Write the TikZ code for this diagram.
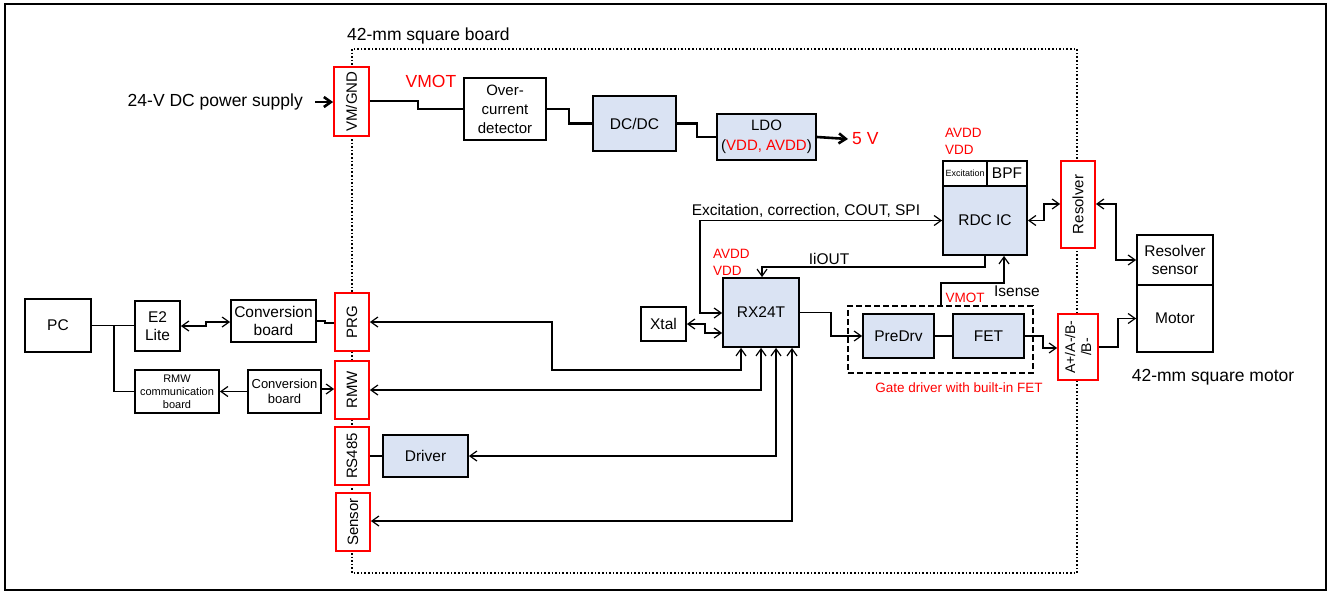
\documentclass[tikz,border=0pt]{standalone}
\usepackage{fontspec}
\setmainfont{Liberation Sans}
\usepackage{xcolor}
\usepackage{tikz}
\usetikzlibrary{arrows.meta,positioning}
\definecolor{vred}{RGB}{255,0,0}
\definecolor{icblue}{RGB}{218,227,243}

\begin{document}
\begin{tikzpicture}[x=1pt,y=-1pt,
     >={Straight Barb[length=7pt,width=10pt]},
     blk/.style={draw,line width=1.8pt,fill=white,inner sep=0pt,align=center,font=\fontsize{15.5}{18.5}\selectfont},
     ic/.style={blk,fill=icblue},
     port/.style={draw=vred,line width=1.8pt,fill=white,inner sep=0pt,rotate=90,align=center,font=\fontsize{15}{16}\selectfont},
     lbl/.style={inner sep=0pt,font=\fontsize{15.5}{18}\selectfont},
     big/.style={inner sep=0pt,font=\fontsize{17.5}{21}\selectfont},
     note/.style={inner sep=0pt,text=vred,align=left,font=\fontsize{13.5}{17}\selectfont},
     edg/.style={line width=1.2pt},
     pwr/.style={line width=2.6pt}]
    \useasboundingbox (0,0) rectangle (1328,592);
    \draw[line width=2pt] (5,4) rectangle (1326,590);
    % board outline
    \draw[line width=1.6pt,dash pattern=on 1.6pt off 2pt] (352,49) rectangle (1077,573);
    \node[big,anchor=west] (brd) at (347,36) {42-mm square board};

    % power path
    \node[big,anchor=east] (psu) at (303,102) {24-V DC power supply};
    \node[port,minimum width=69,minimum height=35] (vm) at (351.5,101.5) {VM/GND};
    \node[blk,minimum width=82,minimum height=62,font=\fontsize{15}{19}\selectfont] (oc) at (505,109) {Over-\\current\\detector};
    \node[ic,minimum width=83,minimum height=55] (dcdc) at (634.5,123.5) {DC/DC};
    \node[ic,minimum width=99,minimum height=46,font=\fontsize{15}{20}\selectfont] (ldo) at (766.5,137) {LDO\\(\textcolor{vred}{VDD, AVDD})};
    \node[big,text=vred] (vmot) at (431,81) {VMOT};
    \node[big,text=vred,anchor=west] (five) at (852,139) {5 V};
    \draw[pwr,->] ([xshift=12pt]psu.east) -- (vm.north |- psu.east);
    \draw[pwr] (vm.south |- 0,101) -| (418,109) -- (oc.west);
    \draw[pwr] (oc.east) -| (569,123.5) -- (dcdc.west);
    \draw[pwr] (dcdc.east) -| (697,137) -- (ldo.west);
    \draw[pwr,->] (ldo.east) -- ([xshift=-4pt]five.west);

    % RDC and MCU
    \node[blk,minimum width=44,minimum height=25,font=\fontsize{9}{10}\selectfont] (exc) at (965,173.5) {Excitation};
    \node[blk,minimum width=40,minimum height=25] (bpf) at (1007,173.5) {BPF};
    \node[ic,minimum width=84,minimum height=69] (rdc) at (985,220.5) {RDC IC};
    \node[note,anchor=west] (rdcpwr) at (945,141.5) {AVDD\\VDD};
    \node[ic,minimum width=76,minimum height=69] (rx) at (761,312.5) {RX24T};
    \node[note,anchor=west] (rxpwr) at (713,262) {AVDD\\VDD};
    \node[blk,minimum width=45,minimum height=34] (xtal) at (663.5,324) {Xtal};

    % gate driver
    \node[draw,line width=1.6pt,dash pattern=on 6pt off 3pt,minimum width=185,minimum height=67] (gd) at (940.5,339.5) {};
    \node[ic,minimum width=71,minimum height=44] (pre) at (898.5,336) {PreDrv};
    \node[ic,minimum width=71,minimum height=44] (fet) at (988.5,336) {FET};
    \node[note] (gdl) at (959,388) {Gate driver with built-in FET};

    \node[lbl] (busl) at (806,211) {Excitation, correction, COUT, SPI};
    \node[lbl] (ioutl) at (829,259) {IiOUT};
    \node[lbl] (isl) at (1017,291) {Isense};
    \node[note] (vmot2) at (965,298) {VMOT};

    % motor side
    \node[port,minimum width=87,minimum height=34] (res) at (1078,204.5) {Resolver};
    \node[port,minimum width=66,minimum height=40,font=\fontsize{14}{16}\selectfont] (pa) at (1078,347) {A+/A-/B-\\/B-};
    \node[blk,minimum width=76,minimum height=50] (rsen) at (1175,260) {Resolver\\sensor};
    \node[blk,minimum width=76,minimum height=67] (mot) at (1175,318.5) {Motor};
    \node[big] (motl) at (1213,377) {42-mm square motor};

    % host side
    \node[blk,minimum width=66,minimum height=53] (pc) at (58,325.5) {PC};
    \node[blk,minimum width=45,minimum height=50] (e2) at (157.5,326) {E2\\Lite};
    \node[blk,minimum width=85,minimum height=42] (cv1) at (273.5,321) {Conversion\\board};
    \node[blk,minimum width=84,minimum height=43,font=\fontsize{11}{13}\selectfont] (rmwc) at (177,391.5) {RMW\\communication\\board};
    \node[blk,minimum width=73,minimum height=43,font=\fontsize{13}{15}\selectfont] (cv2) at (284.5,391.5) {Conversion\\board};
    \node[port,minimum width=58,minimum height=34] (prg) at (352,322) {PRG};
    \node[port,minimum width=58,minimum height=34] (rmw) at (352,390) {RMW};
    \node[port,minimum width=58,minimum height=34] (rs) at (352,456) {RS485};
    \node[port,minimum width=58,minimum height=34] (sen) at (353,522) {Sensor};
    \node[ic,minimum width=85,minimum height=42] (drv) at (425.5,456) {Driver};

    % signals
    \draw[edg,<->] (rx.west |- 0,313) -| (700,220.5) -- (rdc.west);
    \draw[edg,->] (rdc.south) |- (762,267) -- (rx.north -| 762,0);
    \draw[edg,->] (gd.north -| 941,0) |- (1004,283) -- (rdc.south -| 1004,0);
    \draw[edg,<->] (xtal.east) -| (705,333) -- (rx.west |- 0,333);
    \draw[edg,->] (rx.east) -| (831,336) -- (pre.west);
    \draw[edg] (pre) -- (fet);
    \draw[edg,->] (fet.east) -| (1043,348) -- (pa.north |- 0,348);
    \draw[edg,->] (pa.south |- 0,347) -| (1118,318.5) -- (mot.west);
    \draw[edg,<->] (rdc.east) -| (1044,204) -- (res.north |- 0,204);
    \draw[edg,<->] (res.south |- 0,204) -| (1116,260) -- (rsen.west);

    \draw[edg] (pc.east) -- (e2.west |- pc.east);
    \draw[edg] (pc.east) ++(22,0) |- (rmwc.west);
    \draw[edg,<->] (e2.east) -| (206,322) -- (cv1.west |- 0,322);
    \draw[edg] (cv1.east) -| (325,323) -- (prg.north |- 0,323);
    \draw[edg,->] (cv2) -- (rmwc);
    \draw[edg,->] (cv2.east |- 0,389) -- (rmw.north |- 0,389);
    \draw[edg] (rs.south |- drv.west) -- (drv.west);
    \draw[edg,<->] (prg.south |- 0,322) -| (552,370) -| (rx.south -| 741,0);
    \draw[edg,<->] (rmw.south |- 0,390) -| (rx.south -| 761,0);
    \draw[edg,<->] (drv.east) -| (rx.south -| 776,0);
    \draw[edg,<->] (sen.south |- 0,521) -| (rx.south -| 792,0);
\end{tikzpicture}
\end{document}
